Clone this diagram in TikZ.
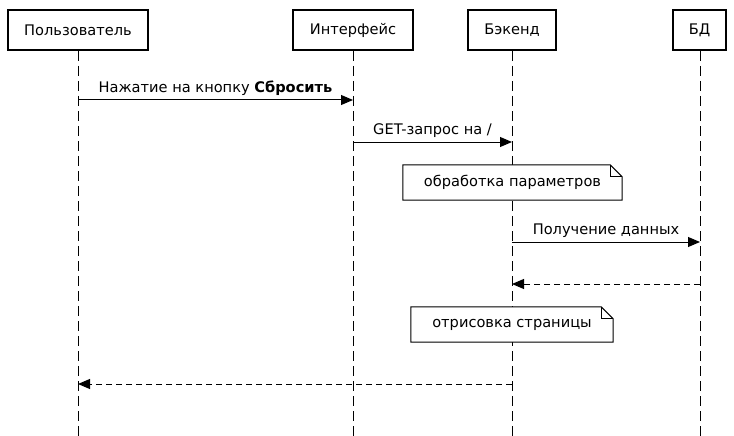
\documentclass[tikz,border=0pt]{standalone}
\usepackage{fontspec}
\setmainfont{DejaVu Sans}
\usetikzlibrary{arrows.meta}
\begin{document}
\begin{tikzpicture}[x=1pt,y=-1pt,
  every node/.style={font=\fontsize{14.6}{17}\selectfont, inner sep=0pt},
  actor/.style={draw, line width=2pt, minimum height=40pt, anchor=center},
  lifeline/.style={line width=1pt, dash pattern=on 10pt off 5pt},
  msg/.style={line width=1pt, -{Triangle[length=12pt,width=10pt]}},
  ret/.style={msg, dash pattern=on 6pt off 4pt},
  lbl/.style={anchor=south, yshift=4pt},
  notebox/.style={minimum height=35pt},
  noteline/.style={line width=1pt, fill=white}
]
\useasboundingbox (0,0) rectangle (734,436);
% actors
\node[actor, minimum width=140pt] (user) at (78,30) {Пользователь};
\node[actor, minimum width=120pt] (ui) at (353,30) {Интерфейс};
\node[actor, minimum width=88pt] (be) at (512,30) {Бэкенд};
\node[actor, minimum width=53pt] (db) at (699.5,30) {БД};
% lifeline ends
\coordinate (userE) at (78,436);
\coordinate (uiE) at (353,436);
\coordinate (beE) at (512,436);
\coordinate (dbE) at (700,436);
\draw[lifeline] (user.south) -- (userE);
\draw[lifeline] (ui.south) -- (uiE);
\draw[lifeline] (be.south) -- (beE);
\draw[lifeline] ([xshift=0.5pt]db.south) -- (dbE);
% message anchor points
\coordinate (u1) at (78,100);  \coordinate (i1) at (353,100);
\coordinate (i2) at (353,142); \coordinate (b2) at (512,142);
\coordinate (b3) at (512,242); \coordinate (d3) at (700,242);
\coordinate (d4) at (700,284); \coordinate (b4) at (512,284);
\coordinate (b5) at (512,384); \coordinate (u5) at (78,384);
% messages
\draw[msg] (u1) -- node[lbl] {Нажатие на кнопку \textbf{Сбросить}} (i1);
\draw[msg] (i2) -- node[lbl] {GET-запрос на /} (b2);
\draw[msg] (b3) -- node[lbl] {Получение данных} (d3);
\draw[ret] (d4) -- (b4);
\draw[ret] (b5) -- (u5);
% notes
\node[notebox, minimum width=219pt] (n1) at (512.5,182.5) {};
\draw[noteline] (n1.north west) -- ([xshift=-12pt]n1.north east) -- ([yshift=-12pt]n1.north east) -- (n1.south east) -- (n1.south west) -- cycle;
\draw[line width=1pt] ([xshift=-12pt]n1.north east) |- ([yshift=-12pt]n1.north east);
\node at (n1.center) {обработка параметров};
\node[notebox, minimum width=202pt] (n2) at (512,324.5) {};
\draw[noteline] (n2.north west) -- ([xshift=-12pt]n2.north east) -- ([yshift=-12pt]n2.north east) -- (n2.south east) -- (n2.south west) -- cycle;
\draw[line width=1pt] ([xshift=-12pt]n2.north east) |- ([yshift=-12pt]n2.north east);
\node at (n2.center) {отрисовка страницы};
\end{tikzpicture}
\end{document}
